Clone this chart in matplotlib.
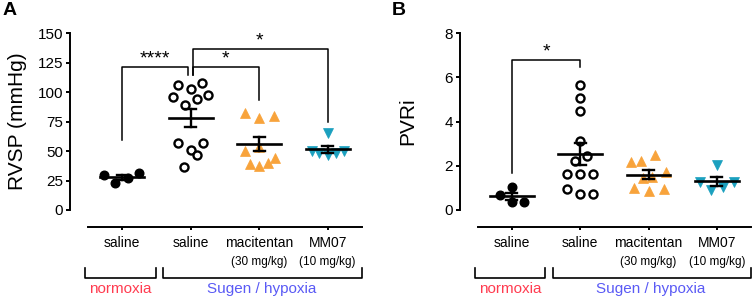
import numpy as np
import matplotlib.pyplot as plt

plt.rcParams['font.family'] = ['Liberation Sans', 'DejaVu Sans']

groups = ["saline", "saline", "macitentan", "MM07"]
doses = ["", "", "(30 mg/kg)", "(10 mg/kg)"]
conditions = ["normoxia", "Sugen / hypoxia"]

# panel A, RVSP (mmHg)
rvsp_normoxia = [29.7, 22.6, 27.4, 31.1]
rvsp_saline = [106.1, 108.1, 102.5, 96.2, 94.2, 97.6, 88.9, 56.6, 57.1, 50.9, 46.7, 36.8]
rvsp_macitentan = [82.1, 78.4, 79.8, 50.1, 53.8, 39.1, 37.6, 39.6, 43.9]
rvsp_mm07 = [65.0, 50.1, 48.1, 46.7, 48.1, 50.1]

# panel B, PVRi
pvri_normoxia = [1.03, 0.70, 0.38, 0.36]
pvri_saline = [5.68, 5.07, 4.47, 3.14, 2.23, 2.43, 1.61, 1.61, 1.61, 0.93, 0.71, 0.71]
pvri_macitentan = [2.19, 2.22, 2.49, 1.46, 1.51, 1.73, 1.01, 0.86, 0.95]
pvri_mm07 = [2.04, 1.25, 0.90, 1.06, 1.25]

# sideways spread of the points in each column, as drawn in the original
rvsp_spread = [
    [-0.26, -0.10, 0.08, 0.24],
    [-0.18, 0.17, 0.0, -0.25, 0.09, 0.25, -0.08, -0.18, 0.18, 0.0, 0.09, -0.10],
    [-0.21, 0.0, 0.21, -0.21, 0.0, -0.14, 0.0, 0.13, 0.23],
    [0.0, -0.23, -0.12, 0.0, 0.12, 0.24],
]
pvri_spread = [
    [0.0, -0.18, 0.0, 0.17],
    [0.0, 0.0, 0.0, 0.0, -0.07, 0.10, -0.19, 0.0, 0.18, -0.19, 0.0, 0.18],
    [-0.26, -0.11, 0.10, -0.08, 0.05, 0.25, -0.22, 0.0, 0.22],
    [0.0, -0.24, -0.08, 0.09, 0.25],
]

# significance brackets: (x1, x2, top, left foot, right foot, stars, star x)
rvsp_sig = [
    (0.0, 0.96, 121.7, 59.4, 114.6, "****", 0.48),
    (1.03, 2.0, 121.7, 114.6, 93.4, "*", 1.51),
    (1.03, 3.0, 137.0, 114.6, 75.0, "*", 2.0),
]
pvri_sig = [
    (0.0, 1.0, 6.79, 1.66, 6.49, "*", 0.5),
]

orange = "#f8a33b"
teal = "#1ba0bf"
styles = [
    dict(marker="o", ms=6.2, mfc="black", mec="black", mew=1.0),
    dict(marker="o", ms=5.8, mfc="white", mec="black", mew=1.7),
    dict(marker="^", ms=7.8, mfc=orange, mec=orange, mew=0.5),
    dict(marker="v", ms=7.6, mfc=teal, mec=teal, mew=0.5),
]


def panel(ax, data, spread, sig, ylim, yticks, ylabel, letter, letter_x):
    for i, vals in enumerate(data):
        vals = np.array(vals)
        xs = i + np.array(spread[i])
        ax.plot(xs, vals, ls="none", zorder=2, clip_on=False, **styles[i])
        m = vals.mean()
        sem = vals.std(ddof=1) / np.sqrt(len(vals))
        ax.plot([i - 0.32, i + 0.32], [m, m], color="black", lw=1.9, zorder=3)
        ax.plot([i, i], [m - sem, m + sem], color="black", lw=1.7, zorder=3)
        for y in (m - sem, m + sem):
            ax.plot([i - 0.08, i + 0.08], [y, y], color="black", lw=1.7, zorder=3)

    for x1, x2, top, f1, f2, stars, sx in sig:
        ax.plot([x1, x1, x2, x2], [f1, top, top, f2], color="black", lw=1.1,
                clip_on=False)
        ax.annotate(stars, xy=(sx, top), xytext=(0, 5.5), textcoords="offset points",
                    ha="center", va="center", fontsize=14)

    ax.set_xlim(-0.76, 3.5)
    ax.set_ylim(*ylim)
    ax.set_yticks(yticks)
    ax.set_xticks(range(4))
    ax.set_xticklabels(groups, fontsize=11)
    ax.tick_params(axis="y", labelsize=11, length=3, width=1.4, pad=2)
    ax.tick_params(axis="x", length=2.5, width=1.4, pad=4)
    ax.spines["top"].set_visible(False)
    ax.spines["right"].set_visible(False)
    ax.spines["left"].set_linewidth(1.4)
    ax.spines["bottom"].set_linewidth(1.4)
    ax.spines["bottom"].set_position(("outward", 12))
    ax.spines["bottom"].set_bounds(-0.5, 3.5)
    ax.set_ylabel(ylabel, fontsize=15)
    ax.yaxis.set_label_coords(-0.148, 0.5)

    tr = ax.get_xaxis_transform()
    for i, d in enumerate(doses):
        if d:
            ax.text(i, -0.293, d, transform=tr, ha="center", va="center", fontsize=8.5)
    # group brackets under the axis
    ax.plot([-0.54, -0.54, 0.49, 0.49], [-0.328, -0.383, -0.383, -0.328],
            transform=tr, color="black", lw=1.2, clip_on=False)
    ax.plot([0.60, 0.60, 3.50, 3.50], [-0.328, -0.383, -0.383, -0.328],
            transform=tr, color="black", lw=1.2, clip_on=False)
    ax.text(-0.03, -0.447, conditions[0], transform=tr, ha="center", va="center",
            fontsize=11, color="#ff3c50")
    ax.text(2.03, -0.447, conditions[1], transform=tr, ha="center", va="center",
            fontsize=11, color="#5a5af5")

    ax.figure.text(letter_x, 0.993, letter, ha="left", va="top", fontsize=14,
                   fontweight="bold")


fig = plt.figure(figsize=(7.54, 2.99), dpi=100)
ax1 = fig.add_axes([0.0928, 0.2977, 0.3873, 0.591])
ax2 = fig.add_axes([0.6101, 0.2977, 0.3859, 0.591])

panel(ax1, [rvsp_normoxia, rvsp_saline, rvsp_macitentan, rvsp_mm07], rvsp_spread,
      rvsp_sig, (0, 150), [0, 25, 50, 75, 100, 125, 150], "RVSP (mmHg)", "A", 0.003)
panel(ax2, [pvri_normoxia, pvri_saline, pvri_macitentan, pvri_mm07], pvri_spread,
      pvri_sig, (0, 8), [0, 2, 4, 6, 8], "PVRi", "B", 0.519)

fig.savefig("out.png", dpi=100)
